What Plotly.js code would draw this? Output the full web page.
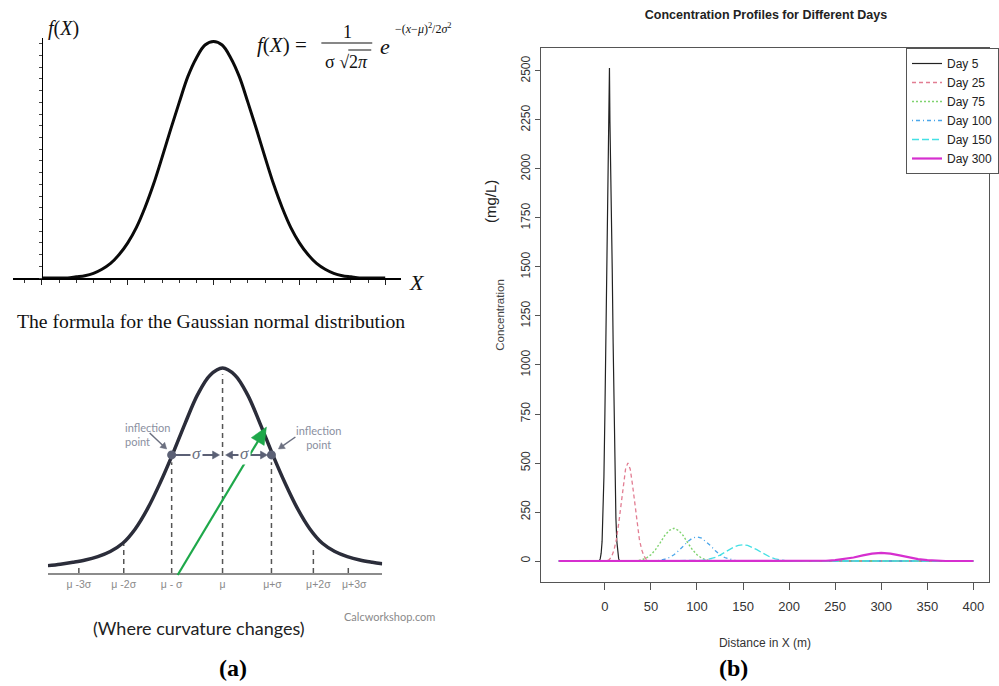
<!DOCTYPE html>
<html><head><meta charset="utf-8">
<script src="https://cdn.plot.ly/plotly-3.0.1.min.js"></script>
<style>html,body{margin:0;padding:0;background:#fff}#chart{width:999px;height:686px}</style>
</head><body><div id="chart"></div>
<script>
// ================= Panel (b): concentration profiles =================
const seriesNames = ['Day 5', 'Day 25', 'Day 75', 'Day 100', 'Day 150', 'Day 300'];
const xDay5 = [-50, -6, -5, -4, -3, -2, -1, 0, 1, 2, 3, 4, 4.5, 5, 5.5, 6, 7, 8, 9, 10, 11, 12, 13, 14, 15, 16, 400];
const cDay5 = [0, 0, 12, 40, 100, 220, 430, 735, 1110, 1490, 1850, 2120, 2250, 2515, 2250, 2120, 1850, 1490, 1110, 735, 430, 220, 100, 40, 12, 0, 0];
const xDay25 = [-50, 0, 2.5, 5, 7.5, 10, 12.5, 15, 17.5, 20, 22.5, 25, 27.5, 30, 32.5, 35, 37.5, 40, 42.5, 45, 47.5, 50, 400];
const cDay25 = [0, 0, 2, 8, 25, 57, 110, 190, 290, 390, 470, 500, 470, 390, 290, 190, 110, 57, 25, 8, 2, 0, 0];
const xDay75 = [-50, 30, 35, 40, 45, 50, 55, 60, 65, 70, 75, 80, 85, 90, 95, 100, 105, 110, 115, 120, 400];
const cDay75 = [0, 0, 2, 6, 15, 32, 58, 93, 130, 156, 167, 156, 130, 93, 58, 32, 15, 6, 2, 0, 0];
const xDay100 = [-50, 50, 55, 60, 65, 70, 75, 80, 85, 90, 95, 100, 105, 110, 115, 120, 125, 130, 135, 140, 145, 150, 400];
const cDay100 = [0, 0, 1, 4, 9, 18, 32, 52, 77, 99, 117, 123, 117, 99, 77, 52, 32, 18, 9, 4, 1, 0, 0];
const xDay150 = [-50, 95, 100, 105, 110, 115, 120, 125, 130, 135, 140, 145, 150, 155, 160, 165, 170, 175, 180, 185, 190, 195, 200, 205, 400];
const cDay150 = [0, 0, 1, 3, 6, 11, 19, 30, 44, 58, 71, 80, 83, 80, 71, 58, 44, 30, 19, 11, 6, 3, 1, 0, 0];
const xDay300 = [-50, 230, 240, 250, 260, 270, 280, 290, 300, 310, 320, 330, 340, 350, 360, 370, 400];
const cDay300 = [0, 0, 1.5, 4.5, 10, 18, 29, 38, 42, 38, 29, 18, 10, 4.5, 1.5, 0, 0];
const xTickVals = [0, 50, 100, 150, 200, 250, 300, 350, 400];
const yTickVals = [0, 250, 500, 750, 1000, 1250, 1500, 1750, 2000, 2250, 2500];

// ================= Panel (a) top: Gaussian curve =================
const gaussX = [0, 0.5, 1, 1.5, 2, 2.5, 3, 3.5, 4, 4.5, 5, 5.5, 6, 6.5, 7, 7.5, 8, 8.5, 9, 9.5, 10,
  10.5, 11, 11.5, 12, 12.5, 13, 13.5, 14, 14.5, 15, 15.5, 16, 16.5, 17, 17.5, 18, 18.5, 19, 19.5, 20];
const gaussY = [0, 0, 0, 0, 0.1, 0.2, 0.4, 0.75, 1.25, 2.0, 3.0, 4.3, 6.0, 8.0, 10.3, 12.7, 15.0, 17.2, 18.8, 19.9, 20.2,
  19.9, 18.8, 17.2, 15.0, 12.7, 10.3, 8.0, 6.0, 4.3, 3.0, 2.0, 1.25, 0.75, 0.4, 0.2, 0.1, 0, 0, 0, 0];

// ================= Panel (a) bottom: normal curve with sigma marks =================
const normX = [-3.5, -3.25, -3, -2.75, -2.5, -2.25, -2, -1.75, -1.5, -1.25, -1, -0.75, -0.5, -0.25, 0,
  0.25, 0.5, 0.75, 1, 1.25, 1.5, 1.75, 2, 2.25, 2.5, 2.75, 3, 3.2];
const normY = [0.036, 0.043, 0.052, 0.063, 0.08, 0.105, 0.145, 0.215, 0.315, 0.44, 0.58, 0.73, 0.87, 0.965, 1.0,
  0.965, 0.87, 0.73, 0.58, 0.44, 0.315, 0.215, 0.145, 0.105, 0.08, 0.063, 0.052, 0.045];
const sigmaTickPos = [-2.88, -1.98, -1.02, 0, 1.0, 1.92, 2.64];
const sigmaTickText = ['μ -3σ', 'μ -2σ', 'μ - σ', 'μ', 'μ+σ', 'μ+2σ', 'μ+3σ'];
const guideX = [-2.88, -1.98, -1.02, 0, 0.98, 1.82, 2.52];
const guideTop = [0.035, 0.14, 0.54, 0.97, 0.54, 0.12, 0.035];
const inflX = [-1.02, 0.98];
const inflY = [0.576, 0.576];

// ---------- helpers (paper positions from pixel positions) ----------
const W = 999, H = 686;
const px = v => v / W;
const py = v => 1 - v / H;

const NARROW = 'Liberation Sans Narrow, Arial Narrow, Liberation Sans, Arial, sans-serif';
const SERIF = 'Liberation Serif, Times New Roman, serif';
const SANS2 = 'Lato, Liberation Sans, sans-serif';

// ---------- traces ----------
const colors = ['#222222', '#e27d92', '#7fd36f', '#4aa6ea', '#45e0e4', '#d62fcf'];
const dashes = ['solid', '4px,3px', '2px,2px', '1px,3px,4px,3px', '7px,3px', 'solid'];
const widths = [1.2, 1.3, 1.4, 1.3, 1.3, 2.2];
const xs = [xDay5, xDay25, xDay75, xDay100, xDay150, xDay300];
const ys = [cDay5, cDay25, cDay75, cDay100, cDay150, cDay300];

const traces = [];
for (let i = 0; i < seriesNames.length; i++) {
  traces.push({
    type: 'scatter', mode: 'lines', name: seriesNames[i],
    x: xs[i], y: ys[i], xaxis: 'x', yaxis: 'y',
    line: {color: colors[i], width: widths[i], dash: dashes[i]},
    hoverinfo: 'skip'
  });
}

traces.push({
  type: 'scatter', mode: 'lines', x: gaussX, y: gaussY, xaxis: 'x2', yaxis: 'y2',
  line: {color: '#0a0a0a', width: 3, shape: 'spline'}, showlegend: false, hoverinfo: 'skip'
});

// dashed guide lines built from guide arrays
const gX = [], gY = [];
guideX.forEach((x, i) => { gX.push(x, x, null); gY.push(0, guideTop[i], null); });
traces.push({
  type: 'scatter', mode: 'lines', x: gX, y: gY, xaxis: 'x3', yaxis: 'y3',
  line: {color: '#555', width: 1.5, dash: '5px,4px'}, showlegend: false, hoverinfo: 'skip', connectgaps: false
});
traces.push({
  type: 'scatter', mode: 'lines', x: normX, y: normY, xaxis: 'x3', yaxis: 'y3',
  line: {color: '#2b2d3a', width: 3.5, shape: 'spline'}, showlegend: false, hoverinfo: 'skip'
});
traces.push({
  type: 'scatter', mode: 'markers', x: inflX, y: inflY, xaxis: 'x3', yaxis: 'y3',
  marker: {color: '#5b6075', size: 9}, showlegend: false, hoverinfo: 'skip'
});

// ---------- annotations ----------
function A(text, x, y, o) {
  return Object.assign({text: text, x: px(x), y: py(y), xref: 'paper', yref: 'paper',
    showarrow: false, xanchor: 'center', yanchor: 'middle'}, o || {});
}
const ann = [
  // top-left figure
  A('<i>f</i>(<i>X</i>)', 46, 29, {xanchor: 'left', font: {family: SERIF, size: 20, color: '#111'}}),
  A('<i>X</i>', 408, 283, {xanchor: 'left', font: {family: SERIF, size: 22, color: '#111'}}),
  A('<i>f</i>(<i>X</i>) =', 256, 45, {xanchor: 'left', font: {family: SERIF, size: 21, color: '#111'}}),
  A('1', 348, 32, {font: {family: SERIF, size: 18, color: '#111'}}),
  A('σ √2<i>π</i>', 347, 62, {font: {family: SERIF, size: 18, color: '#111'}}),
  A('<i>e</i>', 386, 46, {font: {family: SERIF, size: 22, color: '#111'}}),
  A('−(<i>x</i>−<i>μ</i>)<sup>2</sup>/2<i>σ</i><sup>2</sup>', 394, 29, {xanchor: 'left', font: {family: SERIF, size: 12, color: '#111'}}),
  A('The formula for the Gaussian normal distribution', 15, 321, {xanchor: 'left', font: {family: SERIF, size: 19.7, color: '#111'}}),
  // bottom-left figure
  A('inflection<br>point', 123, 434, {xanchor: 'left', align: 'left', font: {family: SANS2, size: 11, color: '#8a8fa0'}}),
  A('inflection<br>point', 319, 437, {align: 'center', font: {family: SANS2, size: 11, color: '#8a8fa0'}}),
  {x: -0.52, y: 0.585, xref: 'x3', yref: 'y3', text: '<i>σ</i>', showarrow: false, bgcolor: '#fff',
    font: {family: SERIF, size: 17, color: '#6b7080'}},
  {x: 0.44, y: 0.585, xref: 'x3', yref: 'y3', text: '<i>σ</i>', showarrow: false, bgcolor: '#fff',
    font: {family: SERIF, size: 17, color: '#6b7080'}},
  A('Calcworkshop.com', 390, 616, {font: {family: SANS2, size: 11, color: '#8a8a8a'}}),
  A('(Where curvature changes)', 199, 628, {font: {family: SANS2, size: 18, color: '#222'}}),
  A('<b>(a)</b>', 233, 668, {font: {family: SERIF, size: 24, color: '#000'}}),
  A('<b>(b)</b>', 735, 668, {font: {family: SERIF, size: 24, color: '#000'}}),
  // right chart extra unit label
  A('(mg/L)', 492, 202, {textangle: -90, font: {family: 'Liberation Sans, Arial, sans-serif', size: 15, color: '#222'}})
];

// ---------- decorative arrows as shapes ----------
function arrow(x0, y0, x1, y1, len, hw, color, w, both) {
  const dx = x1 - x0, dy = y1 - y0, L = Math.hypot(dx, dy), ux = dx / L, uy = dy / L, nx = -uy, ny = ux;
  const head = (tx, ty, vx, vy) => {
    const bx = tx - vx * len, by = ty - vy * len;
    return {type: 'path', xref: 'paper', yref: 'paper',
      path: `M ${px(tx)} ${py(ty)} L ${px(bx + nx * hw)} ${py(by + ny * hw)} L ${px(bx - nx * hw)} ${py(by - ny * hw)} Z`,
      fillcolor: color, line: {color: color, width: 0.5}};
  };
  const sx = both ? x0 + ux * len * 0.8 : x0, sy = both ? y0 + uy * len * 0.8 : y0;
  const out = [{type: 'line', xref: 'paper', yref: 'paper', x0: px(sx), y0: py(sy),
    x1: px(x1 - ux * len * 0.8), y1: py(y1 - uy * len * 0.8), line: {color: color, width: w}}, head(x1, y1, ux, uy)];
  if (both) out.push(head(x0, y0, -ux, -uy));
  return out;
}

const shapes = [
  {type: 'line', xref: 'paper', yref: 'paper', x0: px(322), x1: px(373), y0: py(43), y1: py(43), line: {color: '#111', width: 1.2}},
  {type: 'line', xref: 'paper', yref: 'paper', x0: px(349), x1: px(372), y0: py(50), y1: py(50), line: {color: '#111', width: 1}},
  ...arrow(150, 433, 167, 449, 6, 3.5, '#6c7080', 1.5, false),
  ...arrow(296, 437, 279, 449, 6, 3.5, '#6c7080', 1.5, false),
  ...arrow(176, 455, 220, 455, 7, 4, '#5b6075', 2, false),
  ...arrow(226, 455, 268, 455, 7, 4, '#5b6075', 2, true),
  ...arrow(178, 575, 267, 427, 17, 7.5, '#1ea84a', 2.2, false)
];

const layout = {
  width: W, height: H,
  margin: {l: 0, r: 0, t: 0, b: 0, pad: 0},
  paper_bgcolor: '#fff', plot_bgcolor: 'rgba(0,0,0,0)',
  font: {family: NARROW, color: '#333'},
  title: {text: '<b>Concentration Profiles for Different Days</b>', x: px(766), xanchor: 'center',
    y: py(15), yanchor: 'middle', yref: 'container', font: {family: NARROW, size: 12.5, color: '#222'}},
  showlegend: true,
  legend: {x: px(908), y: py(48), xanchor: 'left', yanchor: 'top', bgcolor: '#fff',
    bordercolor: '#555', borderwidth: 1, font: {family: NARROW, size: 12, color: '#222'},
    tracegroupgap: 0},
  xaxis: {domain: [px(542), px(991)], anchor: 'y', range: [-69.4, 417], tickmode: 'array', tickvals: xTickVals,
    ticks: 'outside', ticklen: 7, tickcolor: '#555', showline: true, mirror: true, linecolor: '#555', linewidth: 1,
    showgrid: false, zeroline: false, tickfont: {family: NARROW, size: 13, color: '#333'}, ticklabelstandoff: 5,
    title: {text: 'Distance in X (m)', font: {family: NARROW, size: 12, color: '#333'}, standoff: 26}},
  yaxis: {domain: [py(582), py(48)], anchor: 'x', range: [-107, 2617], tickmode: 'array', tickvals: yTickVals,
    tickangle: -90, ticks: 'outside', ticklen: 5, tickcolor: '#555', showline: true, mirror: true, linecolor: '#555', linewidth: 1,
    showgrid: false, zeroline: false, tickfont: {family: NARROW, size: 12, color: '#333'},
    title: {text: 'Concentration', font: {family: NARROW, size: 11.5, color: '#444'}, standoff: 12}},
  xaxis2: {domain: [px(13), px(402)], anchor: 'y2', range: [-1.686, 20.93], showline: true, linecolor: '#000', linewidth: 2,
    tickmode: 'linear', tick0: 0, dtick: 5, ticks: 'outside', ticklen: 5, tickwidth: 1, tickcolor: '#222',
    minor: {dtick: 1, ticks: 'outside', ticklen: 2.5, tickcolor: '#333', showgrid: false},
    showticklabels: false, showgrid: false, zeroline: false, fixedrange: true},
  yaxis2: {domain: [py(278), py(38)], anchor: 'free', position: px(42), range: [0, 20.5], showline: true, linecolor: '#000',
    linewidth: 1.5, tickmode: 'linear', tick0: 0, dtick: 1, ticks: 'outside', ticklen: 3, tickcolor: '#444',
    showticklabels: false, showgrid: false, zeroline: false, fixedrange: true},
  xaxis3: {domain: [px(48), px(383)], anchor: 'y3', range: [-3.5, 3.2], showline: true, linecolor: '#8c8c8c', linewidth: 2,
    tickmode: 'array', tickvals: sigmaTickPos, ticktext: sigmaTickText, ticks: '',
    tickfont: {family: 'Liberation Sans, Arial, sans-serif', size: 10.5, color: '#8a8a8a'},
    showgrid: false, zeroline: false, fixedrange: true},
  yaxis3: {domain: [py(573), py(360)], anchor: 'x3', range: [0, 1.039], visible: false, fixedrange: true},
  annotations: ann,
  shapes: shapes
};

Plotly.newPlot('chart', traces, layout, {displayModeBar: false, staticPlot: true});
</script>
</body></html>
